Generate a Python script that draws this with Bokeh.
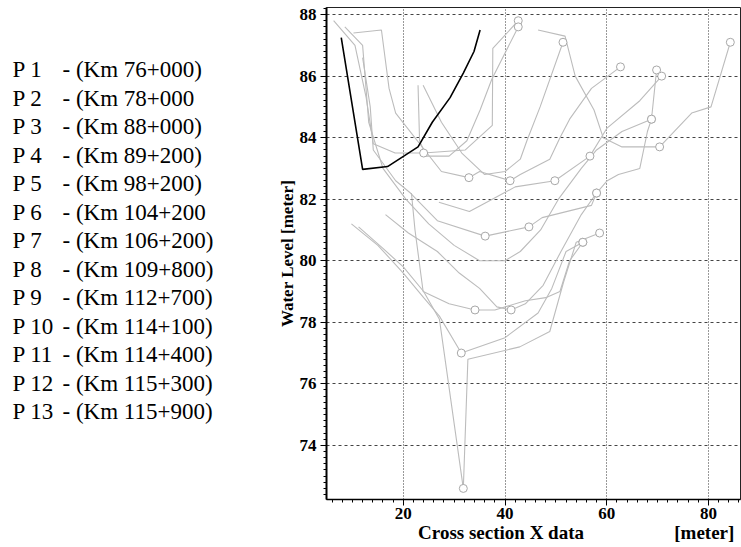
from bokeh.plotting import figure
from bokeh.layouts import row
from bokeh.models import Range1d, SingleIntervalTicker, Label
from bokeh.embed import file_html
from bokeh.resources import INLINE

# ---------------- data ----------------
legend_ids = ["P 1", "P 2", "P 3", "P 4", "P 5", "P 6", "P 7", "P 8", "P 9", "P 10", "P 11", "P 12", "P 13"]
legend_km = ["- (Km 76+000)", "- (Km 78+000", "- (Km 88+000)", "- (Km 89+200)", "- (Km 98+200)",
             "- (Km 104+200", "- (Km 106+200)", "- (Km 109+800)", "- (Km 112+700)", "- (Km 114+100)",
             "- (Km 114+400)", "- (Km 115+300)", "- (Km 115+900)"]

p1_x = [7.8, 12.0, 16.9, 22.9, 25.7, 29.2, 31.8, 33.9, 35.1]
p1_y = [87.25, 82.97, 83.06, 83.7, 84.5, 85.3, 86.1, 86.8, 87.5]

p2_x = [6.3, 10.5, 12.7, 14.1, 18.4, 24.0, 32.2, 37.5, 37.6, 42.6]
p2_y = [87.8, 87.0, 85.3, 83.8, 83.5, 83.5, 83.6, 84.4, 86.9, 87.8]
p2_m = [5, 9]

p3_x = [10.2, 15.7, 17.2, 18.5, 27.5, 32.9, 35.0, 41.0, 43.0, 48.8, 50.8, 52.7, 57.0, 62.7]
p3_y = [87.4, 87.5, 85.6, 84.8, 82.9, 82.7, 82.9, 82.6, 82.8, 83.3, 84.0, 84.6, 85.6, 86.3]
p3_m = [5, 7, 13]

p4_x = [23.9, 27.5, 31.5, 36.0, 40.0, 43.0, 44.3, 46.9, 51.4]
p4_y = [85.7, 84.5, 83.5, 82.8, 82.9, 83.3, 83.9, 85.0, 87.1]
p4_m = [8]

p5_x = [22.9, 23.2, 24.5, 29.0, 32.5, 35.1, 37.4, 42.6]
p5_y = [85.7, 83.9, 83.4, 83.4, 83.9, 84.9, 85.9, 87.6]
p5_m = [7]

p6_x = [12.0, 13.5, 14.1, 18.5, 21.4, 26.7, 36.1, 44.7, 47.3, 57.0, 58.0, 60.1, 62.3, 66.5, 68.0, 68.8, 69.8]
p6_y = [86.6, 85.0, 83.6, 82.6, 82.2, 81.3, 80.8, 81.1, 81.4, 81.8, 82.2, 82.6, 82.8, 83.0, 84.2, 84.6, 86.2]
p6_m = [6, 7, 10, 15, 16]

p7_x = [46.5, 51.8, 53.8, 57.5, 59.3, 63.0, 70.4, 76.7, 80.5, 84.3]
p7_y = [87.5, 87.3, 86.0, 84.9, 84.0, 83.7, 83.7, 84.8, 85.0, 87.1]
p7_m = [6, 9]

p8_x = [27.0, 33.0, 37.5, 42.0, 49.8, 56.7, 60.0, 66.5, 70.8]
p8_y = [81.9, 81.6, 82.0, 82.4, 82.6, 83.4, 84.3, 85.2, 86.0]
p8_m = [4, 5, 8]

p9_x = [21.6, 22.3, 23.9, 29.0, 34.1, 38.0, 44.0, 48.0, 50.8, 52.7, 55.3]
p9_y = [82.2, 81.0, 79.0, 78.6, 78.4, 78.4, 78.7, 78.8, 79.0, 80.0, 80.6]
p9_m = [4, 10]

p10_x = [16.5, 21.0, 26.7, 31.0, 35.0, 38.4, 41.2, 44.0, 47.5, 51.0, 55.0, 58.0]
p10_y = [81.5, 80.9, 80.3, 79.6, 79.1, 78.5, 78.4, 78.6, 79.2, 80.3, 81.5, 82.2]
p10_m = [6, 11]

p11_x = [8.5, 12.0, 13.2, 16.0, 20.5, 25.0, 30.0, 35.0, 40.0, 43.0, 47.0, 50.5, 55.0, 58.0, 63.0, 68.8]
p11_y = [87.6, 87.0, 84.5, 83.0, 82.0, 81.2, 80.5, 80.0, 80.0, 80.3, 81.0, 82.0, 83.0, 83.6, 84.2, 84.6]
p11_m = [15]

p12_x = [9.8, 15.0, 20.0, 24.0, 27.1, 31.4, 40.0, 46.5, 49.2, 52.0, 55.3]
p12_y = [81.2, 80.5, 79.6, 78.8, 78.2, 77.0, 77.5, 78.3, 79.1, 80.3, 80.6]
p12_m = [5, 10]

p13_x = [11.2, 16.0, 20.0, 24.0, 27.1, 31.8, 32.7, 42.9, 48.8, 51.5, 54.0, 58.6]
p13_y = [81.1, 80.4, 79.8, 79.0, 78.1, 72.6, 76.8, 77.2, 77.7, 79.3, 80.6, 80.9]
p13_m = [5, 11]

x_ticks_interval = 20
y_ticks_interval = 2
x_caption = "Cross section X data"
x_unit = "[meter]"
y_caption = "Water Level [meter]"

# ---------------- layout ----------------
H = 547
LEG_W = 250
MAIN_W = 741 - LEG_W
FL, FR, FT, FB = 326 - LEG_W, MAIN_W - 1, 7, 499   # frame edges inside the main figure
XMIN, XMAX = 4.9, 86.3
YMIN, YMAX = 72.24, 88.23

# legend block (left figure; its frame is aligned with the main frame, so map page pixels)
leg = figure(width=LEG_W, height=H, output_backend="svg", toolbar_location=None,
             x_range=Range1d(0, LEG_W), y_range=Range1d(FB, FT),
             min_border_left=0, min_border_right=0, min_border_top=FT, min_border_bottom=H - FB)
leg.axis.visible = False
leg.grid.visible = False
leg.outline_line_color = None
leg.background_fill_color = "white"
leg.border_fill_color = "white"
for i, (pid, km) in enumerate(zip(legend_ids, legend_km)):
    yy = 69 + i * 28.5
    leg.add_layout(Label(x=12, y=yy, text=pid, text_align="left", text_baseline="middle",
                         text_font="Liberation Serif", text_font_size="23px", text_color="black"))
    leg.add_layout(Label(x=62, y=yy, text=km, text_align="left", text_baseline="middle",
                         text_font="Liberation Serif", text_font_size="23px", text_color="black"))

p = figure(width=MAIN_W, height=H, output_backend="svg", toolbar_location=None,
           x_range=Range1d(XMIN, XMAX), y_range=Range1d(YMIN, YMAX),
           min_border_left=FL, min_border_right=MAIN_W - FR, min_border_top=FT, min_border_bottom=H - FB)
p.background_fill_color = "white"
p.border_fill_color = "white"
p.outline_line_color = "#222222"
p.outline_line_width = 1

p.xaxis.ticker = SingleIntervalTicker(interval=x_ticks_interval, num_minor_ticks=10)
p.yaxis.ticker = SingleIntervalTicker(interval=y_ticks_interval, num_minor_ticks=10)
p.xgrid.ticker = p.xaxis.ticker
p.ygrid.ticker = p.yaxis.ticker

for ax in (p.xaxis[0], p.yaxis[0]):
    ax.major_label_text_font = "Liberation Serif"
    ax.major_label_text_font_style = "bold"
    ax.major_label_text_font_size = "17px"
    ax.major_label_text_color = "black"
    ax.axis_line_color = "black"
    ax.major_tick_line_color = "black"
    ax.minor_tick_line_color = "black"
    ax.major_tick_in = 0
    ax.major_tick_out = 6
    ax.minor_tick_in = 0
    ax.minor_tick_out = 3
    ax.axis_label_text_font = "Liberation Serif"
    ax.axis_label_text_font_style = "bold"
    ax.axis_label_text_color = "black"
p.yaxis.axis_line_width = 2
p.xaxis.axis_line_width = 1.5
p.yaxis.axis_label = y_caption
p.yaxis.axis_label_text_font_size = "17px"
p.yaxis.axis_label_standoff = 0
p.yaxis.major_label_standoff = 4
nb = "\u00a0"
p.xaxis.axis_label = nb * 18 + x_caption + nb * 19 + x_unit
p.xaxis.axis_label_text_font_size = "19px"
p.xaxis.axis_label_standoff = 0
p.xaxis.major_label_standoff = 2

p.xgrid.grid_line_color = "#333333"
p.xgrid.grid_line_dash = "1 2"
p.ygrid.grid_line_color = "#444444"
p.ygrid.grid_line_dash = "3 3"

gray_lines = [(p2_x, p2_y, p2_m), (p3_x, p3_y, p3_m), (p4_x, p4_y, p4_m), (p5_x, p5_y, p5_m),
              (p6_x, p6_y, p6_m), (p7_x, p7_y, p7_m), (p8_x, p8_y, p8_m), (p9_x, p9_y, p9_m),
              (p10_x, p10_y, p10_m), (p11_x, p11_y, p11_m), (p12_x, p12_y, p12_m), (p13_x, p13_y, p13_m)]

for xs, ys, ms in gray_lines:
    p.line(xs, ys, line_color="#bcbcbc", line_width=1.1)
for xs, ys, ms in gray_lines:
    p.scatter([xs[i] for i in ms], [ys[i] for i in ms], marker="circle", size=8,
              line_color="#a8a8a8", fill_color="white", line_width=1)

p.line(p1_x, p1_y, line_color="black", line_width=1.6)

open("out.html", "w").write(file_html(row(leg, p), INLINE))
